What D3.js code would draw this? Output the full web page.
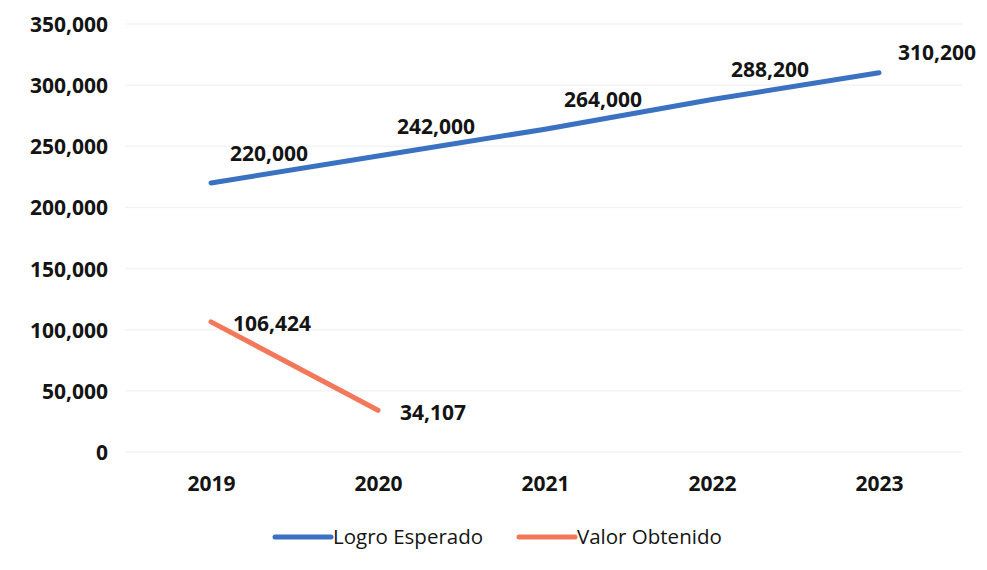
<!DOCTYPE html>
<html>
<head>
<meta charset="utf-8">
<script src="https://cdn.jsdelivr.net/npm/d3@7"></script>
<style>
  body { margin: 0; background: #fff; }
  text { font-family: "Open Sans", sans-serif; fill: #141414; }
</style>
</head>
<body>
<div id="chart"></div>
<script>
  let width = 987;
  let height = 570;

  // categories and series
  let years = ['2019', '2020', '2021', '2022', '2023'];
  let logroEsperado = [220000, 242000, 264000, 288200, 310200];
  let valorObtenido = [106424, 34107];
  let yTicks = [0, 50000, 100000, 150000, 200000, 250000, 300000, 350000];

  let blue = '#3b71c1';
  let orange = '#f3785a';

  let svg = d3.select('#chart')
    .append('svg')
    .attr('width', width)
    .attr('height', height);

  let x = d3.scalePoint().domain(years).range([211, 879]);
  let y = d3.scaleLinear().domain([0, 350000]).range([452, 24]);
  let fmt = d3.format(',');

  //gridlines, very faint like the scan
  svg.append('g')
    .selectAll('line')
    .data(yTicks)
    .enter().append('line')
    .attr('x1', 125)
    .attr('x2', 962)
    .attr('y1', (d) => y(d))
    .attr('y2', (d) => y(d))
    .attr('stroke', '#f3f3f3')
    .attr('stroke-width', 1.5);

  //y axis (no domain line, no ticks)
  let yAxis = svg.append('g')
    .attr('transform', 'translate(108,0)')
    .call(d3.axisLeft(y).tickValues(yTicks).tickFormat(fmt).tickSize(0).tickPadding(0));
  yAxis.select('.domain').remove();
  yAxis.selectAll('text')
    .style('font-family', '"Open Sans", sans-serif')
    .style('font-size', '21px')
    .style('font-weight', 700)
    .attr('fill', '#141414')
    .attr('dy', '0.36em');

  //x axis
  let xAxis = svg.append('g')
    .attr('transform', 'translate(0,475)')
    .call(d3.axisBottom(x).tickSize(0).tickPadding(0));
  xAxis.select('.domain').remove();
  xAxis.selectAll('text')
    .style('font-family', '"Open Sans", sans-serif')
    .style('font-size', '21px')
    .style('font-weight', 700)
    .attr('fill', '#141414')
    .attr('dy', '0.75em');

  let line = d3.line()
    .x((d, i) => x(years[i]))
    .y((d) => y(d));

  svg.append('path')
    .datum(logroEsperado)
    .attr('d', line)
    .attr('fill', 'none')
    .attr('stroke', blue)
    .attr('stroke-width', 5)
    .attr('stroke-linecap', 'round');

  svg.append('path')
    .datum(valorObtenido)
    .attr('d', line)
    .attr('fill', 'none')
    .attr('stroke', orange)
    .attr('stroke-width', 5)
    .attr('stroke-linecap', 'round');

  //data labels - blue ones sit up and to the right, orange ones to the right
  svg.append('g')
    .selectAll('text')
    .data(logroEsperado)
    .enter().append('text')
    .attr('x', (d, i) => x(years[i]) + 19)
    .attr('y', (d, i) => y(d) - (i === 4 ? 20 : 30))
    .attr('dy', '0.36em')
    .style('font-size', '21px')
    .style('font-weight', 700)
    .text((d) => fmt(d));

  svg.append('g')
    .selectAll('text')
    .data(valorObtenido)
    .enter().append('text')
    .attr('x', (d, i) => x(years[i]) + 22)
    .attr('y', (d) => y(d) + 2)
    .attr('dy', '0.36em')
    .style('font-size', '21px')
    .style('font-weight', 700)
    .text((d) => fmt(d));

  //legend
  let legendItems = [
    { name: 'Logro Esperado', color: blue, x: 275 },
    { name: 'Valor Obtenido', color: orange, x: 519 },
  ];
  let legend = svg.append('g')
    .selectAll('g')
    .data(legendItems)
    .enter().append('g')
    .attr('transform', (d) => `translate(${d.x},537)`);
  legend.append('line')
    .attr('x1', 0)
    .attr('x2', 56)
    .attr('stroke', (d) => d.color)
    .attr('stroke-width', 5)
    .attr('stroke-linecap', 'round');
  legend.append('text')
    .attr('x', 58)
    .attr('dy', '0.36em')
    .style('font-size', '20.5px')
    .text((d) => d.name);
</script>
</body>
</html>
